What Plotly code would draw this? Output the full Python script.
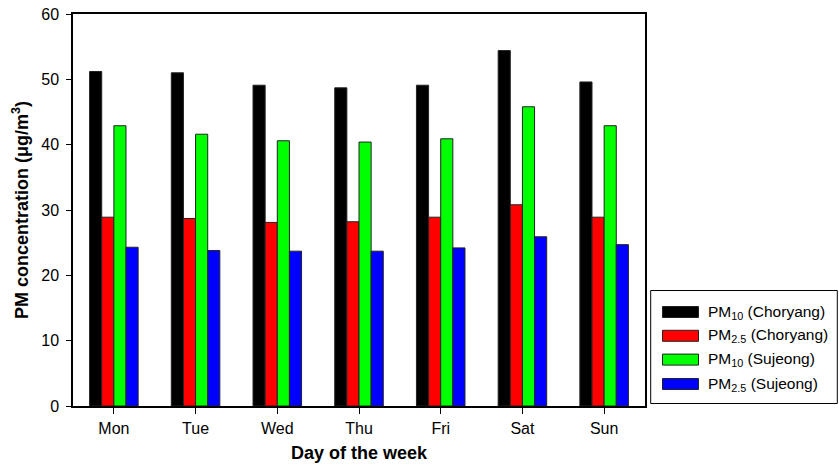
import plotly.graph_objects as go

# Day-of-week mean PM concentrations at two sites
days = ["Mon", "Tue", "Wed", "Thu", "Fri", "Sat", "Sun"]
pm10_choryang = [51.2, 51.0, 49.1, 48.7, 49.1, 54.4, 49.6]
pm25_choryang = [28.9, 28.7, 28.1, 28.2, 28.9, 30.8, 28.9]
pm10_sujeong = [42.9, 41.6, 40.6, 40.4, 40.9, 45.8, 42.9]
pm25_sujeong = [24.3, 23.8, 23.7, 23.7, 24.2, 25.9, 24.7]

series_names = [
    "PM<sub>10</sub> (Choryang)",
    "PM<sub>2.5</sub> (Choryang)",
    "PM<sub>10</sub> (Sujeong)",
    "PM<sub>2.5</sub> (Sujeong)",
]
series_values = [pm10_choryang, pm25_choryang, pm10_sujeong, pm25_sujeong]
series_colors = ["#000000", "#ff0000", "#00ff00", "#0000ff"]

W, H = 839, 467
M_L, M_R, M_T, M_B = 73, 194, 14, 61
PLOT_W = W - M_L - M_R
PLOT_H = H - M_T - M_B
FONT = "Arial, Liberation Sans, sans-serif"


def px_x(px):
    return (px - M_L) / PLOT_W


def px_y(py):
    return (H - M_B - py) / PLOT_H


fig = go.Figure()
for name, vals, color in zip(series_names, series_values, series_colors):
    fig.add_trace(go.Bar(
        x=days, y=vals, name=name,
        marker=dict(color=color, line=dict(color="#222222", width=1)),
        showlegend=False,
    ))

# Boxed legend with wide swatches, placed right of the plot area
shapes = [dict(
    type="rect", xref="paper", yref="paper",
    x0=px_x(650.7), x1=px_x(837.3), y0=px_y(403.5), y1=px_y(290.5),
    line=dict(color="#000000", width=1), fillcolor="rgba(0,0,0,0)",
)]
annotations = []
row_centers = [312, 335.8, 359.6, 384]
for name, color, yc in zip(series_names, series_colors, row_centers):
    shapes.append(dict(
        type="rect", xref="paper", yref="paper",
        x0=px_x(662.5), x1=px_x(698.5), y0=px_y(yc + 5.5), y1=px_y(yc - 5.5),
        line=dict(color="#222222", width=1), fillcolor=color,
    ))
    annotations.append(dict(
        xref="paper", yref="paper", x=px_x(706), y=px_y(yc),
        xanchor="left", yanchor="middle", showarrow=False,
        text=name, font=dict(family=FONT, size=15.5, color="#000000"),
    ))

fig.update_layout(
    width=W, height=H,
    margin=dict(l=M_L, r=M_R, t=M_T, b=M_B, autoexpand=False),
    paper_bgcolor="white", plot_bgcolor="white",
    barmode="group", bargap=0.406, bargroupgap=0,
    font=dict(family=FONT, size=16, color="#000000"),
    shapes=shapes, annotations=annotations,
    xaxis=dict(
        range=[-0.5, 6.5], automargin=False,
        showline=True, linecolor="#000000", linewidth=1.5, mirror=True,
        ticks="outside", ticklen=6, tickcolor="#000000", tickwidth=1,
        showgrid=False, zeroline=False,
        ticklabelstandoff=1,
        tickfont=dict(family=FONT, size=16, color="#000000"),
        title=dict(text="<b>Day of the week</b>", standoff=10,
                   font=dict(family=FONT, size=18, color="#000000")),
    ),
    yaxis=dict(
        range=[0, 60], dtick=10, automargin=False,
        showline=True, linecolor="#000000", linewidth=1.5, mirror=True,
        ticks="outside", ticklen=5, tickcolor="#000000", tickwidth=1,
        showgrid=False, zeroline=False,
        ticklabelstandoff=4,
        tickfont=dict(family=FONT, size=16, color="#000000"),
        title=dict(text="<b>PM concentration (μg/m<sup>3</sup>)</b>", standoff=8,
                   font=dict(family=FONT, size=18, color="#000000")),
    ),
)

fig.write_html("out.html")
